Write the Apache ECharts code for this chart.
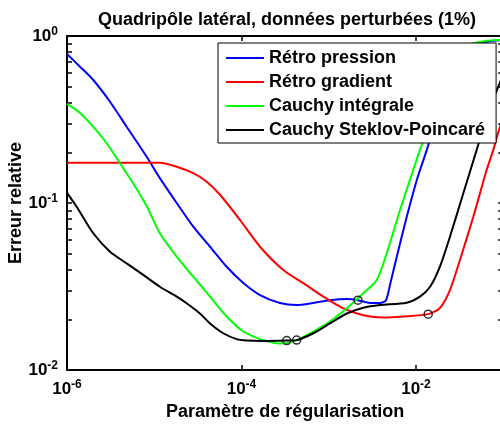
<!DOCTYPE html>
<html>
<head>
<meta charset="utf-8">
<script src="https://cdn.jsdelivr.net/npm/echarts@6/dist/echarts.min.js"></script>
<style>html,body{margin:0;padding:0;background:#fff}#c{width:500px;height:426px}</style>
</head>
<body>
<div id="c"></div>
<script>
// ---- data (x: regularisation parameter, y: relative error) ----
const seriesNames = ['Rétro pression', 'Rétro gradient', 'Cauchy intégrale', 'Cauchy Steklov-Poincaré'];

const retroPression = [
  [1e-6, 0.78], [1.41e-6, 0.655], [2.0e-6, 0.545], [3.11e-6, 0.404], [4.83e-6, 0.286],
  [8.19e-6, 0.189], [1.16e-5, 0.141], [1.81e-5, 0.100], [2.80e-5, 0.0722], [4.36e-5, 0.0547],
  [6.76e-5, 0.0415], [1.05e-4, 0.0332], [1.63e-4, 0.0281], [2.76e-4, 0.0252], [4.29e-4, 0.0245],
  [6.6e-4, 0.0252], [1.03e-3, 0.0262], [1.61e-3, 0.0266], [2.16e-3, 0.0262], [2.97e-3, 0.0252],
  [3.87e-3, 0.0252], [4.53e-3, 0.0262], [5.03e-3, 0.0323], [6.01e-3, 0.0475], [7.82e-3, 0.0824],
  [1.02e-2, 0.137], [1.33e-2, 0.208], [1.88e-2, 0.371], [2.5e-2, 0.60], [3.2e-2, 0.80],
  [4.5e-2, 0.89], [7e-2, 0.93], [1e-1, 0.945]
];

const retroGradient = [
  [1e-6, 0.174], [4.05e-6, 0.174], [1.16e-5, 0.174], [1.81e-5, 0.165], [2.80e-5, 0.151],
  [3.99e-5, 0.134], [5.67e-5, 0.112], [9.62e-5, 0.0791], [1.63e-4, 0.0547], [3.01e-4, 0.0397],
  [5.11e-4, 0.0331], [8.67e-4, 0.0275], [1.47e-3, 0.0234], [2.49e-3, 0.0213], [4.22e-3, 0.0206],
  [7.15e-3, 0.0209], [1.38e-2, 0.0216], [1.88e-2, 0.0235], [2.45e-2, 0.0301], [3.19e-2, 0.0456],
  [4.54e-2, 0.0828], [6.46e-2, 0.158], [7.69e-2, 0.208], [8.71e-2, 0.262], [9.93e-2, 0.323]
];

const cauchyIntegrale = [
  [1e-6, 0.392], [1.41e-6, 0.346], [2.0e-6, 0.286], [2.85e-6, 0.228], [4.05e-6, 0.173],
  [5.75e-6, 0.131], [8.19e-6, 0.0959], [1.16e-5, 0.0659], [1.81e-5, 0.0477], [2.80e-5, 0.0362],
  [4.36e-5, 0.0275], [6.76e-5, 0.0209], [1.05e-4, 0.0170], [1.78e-4, 0.0151], [2.76e-4, 0.0144],
  [4.29e-4, 0.0151], [6.65e-4, 0.0170], [1.03e-3, 0.0195], [1.61e-3, 0.0234], [2.49e-3, 0.0288],
  [3.55e-3, 0.0346], [4.62e-3, 0.0500], [6.56e-3, 0.0908], [9.31e-3, 0.158], [1.11e-2, 0.208],
  [1.88e-2, 0.443], [2.80e-2, 0.718], [3.94e-2, 0.883], [6.18e-2, 0.933], [1e-1, 0.946]
];

const cauchySteklov = [
  [1e-6, 0.115], [1.29e-6, 0.0950], [2.0e-6, 0.0659], [3.11e-6, 0.0511], [4.83e-6, 0.0435],
  [7.48e-6, 0.0371], [1.16e-5, 0.0315], [1.81e-5, 0.0275], [2.35e-5, 0.0251], [3.34e-5, 0.0218],
  [4.36e-5, 0.0190], [6.18e-5, 0.0166], [8.81e-5, 0.0153], [1.15e-4, 0.0150], [1.78e-4, 0.0149],
  [3.30e-4, 0.0150], [4.29e-4, 0.0151], [6.65e-4, 0.0166], [1.03e-3, 0.0190], [1.61e-3, 0.0218],
  [2.49e-3, 0.0236], [3.87e-3, 0.0245], [7.82e-3, 0.0253], [1.11e-2, 0.0275], [1.45e-2, 0.0315],
  [1.88e-2, 0.0416], [2.45e-2, 0.0628], [3.48e-2, 0.114], [4.96e-2, 0.208], [7.05e-2, 0.371],
  [9.93e-2, 0.584]
];

// circled optimum points
const optimaX = [3.30e-4, 4.29e-4, 2.16e-3, 1.38e-2];
const optimaY = [0.0150, 0.0151, 0.0262, 0.0216];

const xLabelValues = [1e-6, 1e-4, 1e-2];
const yLabelValues = [1e-2, 1e-1, 1];
const yMinorTicks = [0.02,0.03,0.04,0.05,0.06,0.07,0.08,0.09,0.2,0.3,0.4,0.5,0.6,0.7,0.8,0.9];

const colors = ['#0000ff', '#ff0000', '#00ff00', '#000000'];
const FONT = '"Liberation Sans", Arial, sans-serif';

function powLabel(v) {
  const e = Math.round(Math.log10(v));
  return '{b|10}{s|' + e + '}';
}
const richLab = {
  b: { fontSize: 17, fontWeight: 'bold', fontFamily: FONT, color: '#000' },
  s: { fontSize: 12, fontWeight: 'bold', fontFamily: FONT, color: '#000', padding: [0, 0, 9, 0] }
};

const lineSeries = [retroPression, retroGradient, cauchyIntegrale, cauchySteklov].map((d, i) => ({
  name: seriesNames[i],
  type: 'line',
  data: d,
  smooth: 0.25,
  showSymbol: false,
  symbol: 'none',
  clip: true,
  lineStyle: { color: colors[i], width: 2 },
  itemStyle: { color: colors[i] },
  z: 2 + i
}));

const chart = echarts.init(document.getElementById('c'), null, { renderer: 'canvas' });
chart.setOption({
  animation: false,
  backgroundColor: '#fff',
  title: {
    text: 'Quadripôle latéral, données perturbées (1%)',
    left: 282, textAlign: 'center', top: 6,
    textStyle: { fontFamily: FONT, fontWeight: 'bold', fontSize: 18, color: '#000' }
  },
  legend: {
    data: seriesNames,
    orient: 'vertical',
    left: 218, top: 43,
    padding: [5, 11, 3, 8],
    itemGap: 4,
    itemWidth: 38, itemHeight: 2,
    icon: 'rect',
    backgroundColor: '#fff',
    borderColor: '#000', borderWidth: 1,
    z: 20,
    textStyle: { fontFamily: FONT, fontWeight: 'bold', fontSize: 18, color: '#000', lineHeight: 20 }
  },
  grid: { left: 67, top: 36, width: 436.25, height: 334, containLabel: false, outerBoundsMode: 'none' },
  xAxis: [{
    type: 'log', min: 1e-6, max: 1e-1, logBase: 10,
    position: 'bottom',
    name: 'Paramètre de régularisation', nameLocation: 'middle', nameGap: 31,
    nameTextStyle: { fontFamily: FONT, fontWeight: 'bold', fontSize: 18, color: '#000' },
    axisLine: { show: true, lineStyle: { color: '#000', width: 2 } },
    axisTick: { show: true, inside: true, length: 5, lineStyle: { color: '#000', width: 1.5 }, customValues: xLabelValues },
    axisLabel: { formatter: powLabel, rich: richLab, margin: 9, customValues: xLabelValues },
    splitLine: { show: false }, minorTick: { show: false }
  }, {
    type: 'log', min: 1e-6, max: 1e-1, logBase: 10,
    position: 'top',
    axisLine: { show: true, lineStyle: { color: '#000', width: 2 } },
    axisTick: { show: true, inside: true, length: 5, lineStyle: { color: '#000', width: 1.5 }, customValues: xLabelValues },
    axisLabel: { show: false },
    splitLine: { show: false }
  }],
  yAxis: [{
    type: 'log', min: 0.01, max: 1, logBase: 10,
    position: 'left',
    name: 'Erreur relative', nameLocation: 'middle', nameGap: 42, nameMoveOverlap: false,
    nameTextStyle: { fontFamily: FONT, fontWeight: 'bold', fontSize: 18, color: '#000' },
    axisLine: { show: true, lineStyle: { color: '#000', width: 2 } },
    axisTick: { show: true, inside: true, length: 5, lineStyle: { color: '#000', width: 1.5 }, customValues: yMinorTicks.concat(yLabelValues) },
    axisLabel: { formatter: powLabel, rich: richLab, margin: 9, customValues: yLabelValues },
    splitLine: { show: false }
  }, {
    type: 'log', min: 0.01, max: 1, logBase: 10,
    position: 'right',
    axisLine: { show: true, lineStyle: { color: '#000', width: 2 } },
    axisTick: { show: true, inside: true, length: 5, lineStyle: { color: '#000', width: 1.5 }, customValues: yMinorTicks.concat(yLabelValues) },
    axisLabel: { show: false },
    splitLine: { show: false }
  }],
  series: lineSeries.concat([{
    name: 'optima',
    type: 'scatter',
    data: optimaX.map((x, i) => [x, optimaY[i]]),
    symbol: 'circle', symbolSize: 8,
    itemStyle: { color: 'rgba(0,0,0,0)', borderColor: '#000', borderWidth: 1.5 },
    z: 10
  }])
});
</script>
</body>
</html>
